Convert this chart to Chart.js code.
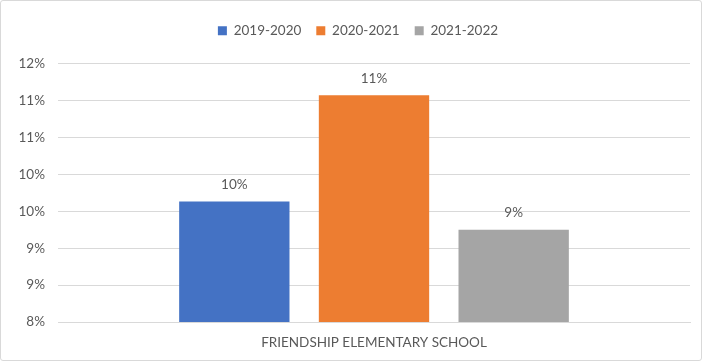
<!DOCTYPE html>
<html lang="en">
<head>
  <meta charset="UTF-8" />
  <title>Friendship Elementary School</title>
  <script src="https://cdn.jsdelivr.net/npm/chart.js@4"></script>
  <style>
    body {
      margin: 0;
      background-color: #fff;
    }
    .chart-box {
      width: 700px;
      height: 359px;
      border: 1px solid #d9d9d9;
      border-radius: 3px;
      position: relative;
    }
  </style>
</head>
<body>
  <div class="chart-box">
    <canvas id="schoolChart"></canvas>
  </div>

  <script>
    const categories = ['FRIENDSHIP ELEMENTARY SCHOOL'];
    const seriesNames = ['2019-2020', '2020-2021', '2021-2022'];
    const seriesValues = [[9.63], [11.07], [9.25]];
    const seriesColors = ['#4472c4', '#ed7d31', '#a5a5a5'];
    const yTicks = [8, 8.5, 9, 9.5, 10, 10.5, 11, 11.5];

    const textColor = '#595959';
    const fontFamily = 'Lato, "Liberation Sans", Arial, sans-serif';
    const fontSize = 13.5;

    // value labels above each bar, rounded like the sheet shows them
    const barLabels = {
      id: 'barLabels',
      afterDatasetsDraw(chart) {
        const ctx = chart.ctx;
        ctx.save();
        ctx.fillStyle = textColor;
        ctx.font = fontSize + 'px ' + fontFamily;
        ctx.textAlign = 'center';
        ctx.textBaseline = 'middle';
        chart.data.datasets.forEach((ds, i) => {
          chart.getDatasetMeta(i).data.forEach((bar, j) => {
            ctx.fillText(Math.round(ds.data[j]) + '%', bar.x, bar.y - 17);
          });
        });
        ctx.restore();
      }
    };

    // extra room under the legend, and centre it over the plot like the sheet
    const legendGap = {
      id: 'legendGap',
      beforeInit(chart) {
        const fit = chart.legend.fit;
        chart.legend.fit = function () {
          fit.call(this);
          this.height += 16;
        };
      },
      afterLayout(chart) {
        chart.legend.left += 12;
        chart.legend.right += 12;
        (chart.legend.legendHitBoxes || []).forEach(b => { b.left += 12; });
      }
    };

    new Chart(document.getElementById('schoolChart'), {
      type: 'bar',
      data: {
        labels: categories,
        datasets: seriesNames.map((name, i) => ({
          label: name,
          data: seriesValues[i],
          backgroundColor: seriesColors[i],
          categoryPercentage: 0.663,
          barPercentage: 0.79
        }))
      },
      options: {
        responsive: true,
        maintainAspectRatio: false,
        animation: false,
        layout: {
          padding: { top: 8, right: 11, bottom: 0, left: 1 }
        },
        scales: {
          x: {
            grid: { display: false, drawTicks: false },
            border: { display: true, color: '#d9d9d9' },
            afterFit(axis) {
              axis.height = 38;
            },
            ticks: {
              color: textColor,
              padding: 13,
              font: { family: fontFamily, size: fontSize }
            }
          },
          y: {
            min: 8,
            max: 11.5,
            afterBuildTicks(axis) {
              axis.ticks = yTicks.map(v => ({ value: v }));
            },
            afterFit(axis) {
              axis.width = 56;
            },
            grid: { color: '#d9d9d9', drawTicks: false },
            border: { display: false },
            ticks: {
              color: textColor,
              padding: 13,
              font: { family: fontFamily, size: fontSize },
              callback: v => Math.round(v) + '%'
            }
          }
        },
        plugins: {
          legend: {
            position: 'top',
            labels: {
              color: textColor,
              boxWidth: 9,
              boxHeight: 9,
              padding: 15,
              font: { family: fontFamily, size: fontSize }
            }
          },
          tooltip: { enabled: false }
        }
      },
      plugins: [barLabels, legendGap]
    });
  </script>
</body>
</html>
